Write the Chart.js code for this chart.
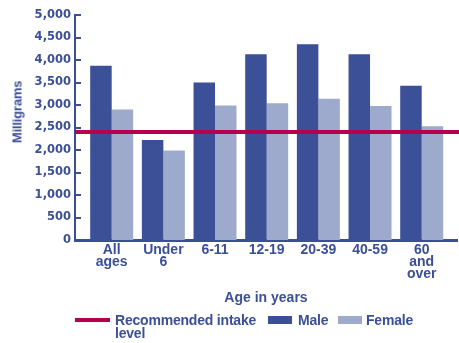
<!DOCTYPE html>
<html>
<head>
<meta charset="utf-8">
<script src="https://cdn.jsdelivr.net/npm/chart.js@4/dist/chart.umd.min.js"></script>
<style>
  html, body { margin: 0; padding: 0; background: #ffffff; }
  #wrap { position: relative; width: 459px; height: 343px; overflow: hidden; }
  #chart { position: absolute; left: 0; top: 0; }
  .txt { position: absolute; font-family: "Liberation Sans", Arial, sans-serif; font-weight: bold;
         color: #3b4f96; font-size: 14px; line-height: 13px; white-space: nowrap; letter-spacing: -0.2px; }
  #ytitle { font-size: 13px; left: 16.5px; top: 112px; transform: translate(-50%, -50%) rotate(-90deg); }
  .swatch { position: absolute; }
</style>
</head>
<body>
<div id="wrap">
  <canvas id="chart" width="459" height="343"></canvas>
  <div id="ytitle" class="txt">Milligrams</div>
  <div class="swatch" style="left:75px; top:318px; width:35px; height:4px; background:#b5004f;"></div>
  <div class="txt" style="left:115px; top:314px;">Recommended intake<br>level</div>
  <div class="swatch" style="left:268px; top:316px; width:24px; height:8px; background:#3b5097;"></div>
  <div class="txt" style="left:298px; top:314px;">Male</div>
  <div class="swatch" style="left:338px; top:316px; width:24px; height:8px; background:#9eaacc;"></div>
  <div class="txt" style="left:366px; top:314px;">Female</div>
</div>
<script>
// Average daily sodium intake by age group (milligrams)
const ageGroups = [['All', 'ages'], ['Under', '6'], ['6-11'], ['12-19'], ['20-39'], ['40-59'], ['60', 'and', 'over']];
const maleIntake = [3870, 2220, 3500, 4130, 4350, 4130, 3430];
const femaleIntake = [2900, 1990, 2990, 3040, 3140, 2980, 2530];
const recommendedIntake = 2400;
const yTicks = [0, 500, 1000, 1500, 2000, 2500, 3000, 3500, 4000, 4500, 5000];

const TEXT = '#3b4f96';
const MALE = '#3b5097';
const FEMALE = '#9eaacc';
const RED = '#b5004f';

// Inward tick marks on the value axis
const innerTicks = {
  id: 'innerTicks',
  afterDraw(chart) {
    const y = chart.scales.y;
    const ctx = chart.ctx;
    ctx.save();
    ctx.strokeStyle = TEXT;
    ctx.lineWidth = 2;
    yTicks.forEach(v => {
      const py = Math.round(y.getPixelForValue(v));
      ctx.beginPath();
      ctx.moveTo(chart.chartArea.left, py);
      ctx.lineTo(chart.chartArea.left + 6, py);
      ctx.stroke();
    });
    ctx.restore();
  }
};

// Horizontal reference line for the recommended intake level
const recommendedLine = {
  id: 'recommendedLine',
  afterDatasetsDraw(chart) {
    const y = chart.scales.y;
    const ctx = chart.ctx;
    const py = y.getPixelForValue(recommendedIntake);
    ctx.save();
    ctx.strokeStyle = RED;
    ctx.lineWidth = 4;
    ctx.beginPath();
    ctx.moveTo(chart.chartArea.left, py);
    ctx.lineTo(chart.width, py);
    ctx.stroke();
    ctx.restore();
  }
};

new Chart(document.getElementById('chart'), {
  type: 'bar',
  data: {
    datasets: [
      { label: 'Male', data: maleIntake.map((v, i) => ({ x: i, y: v })), backgroundColor: MALE, borderWidth: 0 },
      { label: 'Female', data: femaleIntake.map((v, i) => ({ x: i, y: v })), backgroundColor: FEMALE, borderWidth: 0 }
    ]
  },
  options: {
    responsive: false,
    animation: false,
    events: [],
    layout: { padding: { top: 15, right: 2, bottom: 36, left: 0 } },
    datasets: { bar: { categoryPercentage: 0.832, barPercentage: 1.0 } },
    plugins: { legend: { display: false }, tooltip: { enabled: false } },
    scales: {
      x: {
        type: 'linear',
        offset: false,
        min: -0.71,
        max: 6.683,
        grid: { display: false, drawTicks: false, offset: false },
        border: { display: true, color: TEXT, width: 3 },
        ticks: {
          stepSize: 1,
          includeBounds: false,
          autoSkip: false,
          maxRotation: 0,
          padding: 4,
          color: TEXT,
          font: { family: '"Liberation Sans", Arial, sans-serif', size: 14, weight: 'bold', lineHeight: '12px' },
          callback: (v) => (Number.isInteger(v) && ageGroups[v]) ? ageGroups[v] : ''
        },
        title: {
          display: true,
          text: 'Age in years',
          color: TEXT,
          padding: 0,
          font: { family: '"Liberation Sans", Arial, sans-serif', size: 14, weight: 'bold', lineHeight: 1.2 }
        },
        afterFit: (scale) => { scale.height = 67; }
      },
      y: {
        min: 0,
        max: 5000,
        afterBuildTicks: (scale) => { scale.ticks = yTicks.map(v => ({ value: v })); },
        grid: { display: false, drawTicks: false },
        border: { display: true, color: TEXT, width: 2 },
        ticks: {
          padding: 4,
          color: TEXT,
          font: { family: '"DejaVu Sans", sans-serif', size: 11.5, weight: 'bold' },
          callback: (v) => v.toLocaleString('en-US')
        },
        afterFit: (scale) => { scale.width = 75; }
      }
    }
  },
  plugins: [recommendedLine, innerTicks]
});
</script>
</body>
</html>
